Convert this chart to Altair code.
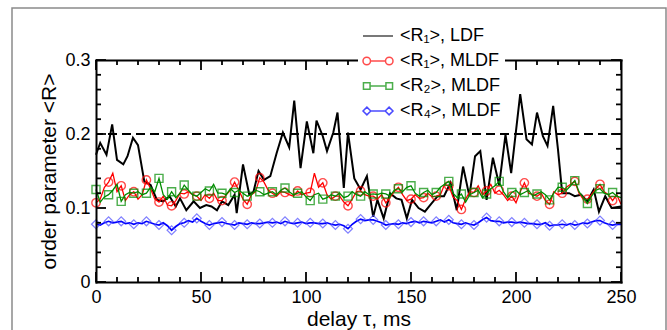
import altair as alt
import pandas as pd

# ---------------- data ----------------
tau_ldf = [0, 2, 5, 7.7, 10, 13, 15, 17.6, 20, 23,
           26, 29, 32, 35, 38, 40, 43, 46.5, 49.5, 52.5,
           55, 57.6, 60, 63, 66, 67, 70, 73, 75, 77.4,
           80, 83, 86, 89, 92, 94.4, 97.4, 100.4, 103.5, 105,
           108, 110, 113, 115, 118, 120, 123, 126, 129, 132,
           134, 137, 140, 143, 145.5, 148, 150.5, 153.6, 156.6, 159.7,
           162.7, 165.7, 168.8, 171.8, 174.8, 177.8, 180.5, 183, 186, 189,
           192, 195, 197.7, 202, 205, 207.6, 210, 212.8, 215, 217.7,
           220, 222, 225.3, 228, 231, 234, 237, 239.5, 242.5, 245.5,
           250]
r1_ldf = [.172, .188, .172, .213, .165, .159, .170, .195, .185, .136,
          .131, .111, .109, .116, .102, .113, .097, .109, .100, .104,
          .102, .097, .109, .104, .118, .093, .159, .118, .122, .150,
          .138, .143, .174, .202, .182, .245, .154, .217, .174, .218,
          .197, .177, .202, .229, .127, .202, .140, .125, .143, .088,
          .111, .086, .120, .113, .111, .086, .111, .100, .095, .106,
          .116, .116, .134, .097, .156, .116, .170, .177, .111, .168,
          .131, .199, .147, .254, .193, .186, .229, .197, .184, .238,
          .179, .120, .120, .116, .118, .109, .125, .095, .116, .100,
          .102]

tau_mldf = list(range(0, 251, 2))
r1_mldf = [.107, .112, .128, .135, .147, .122, .130, .110, .118, .122,
           .112, .118, .138, .126, .112, .108, .116, .104, .103, .110,
           .120, .119, .122, .118, .116, .110, .118, .113, .120, .110,
           .110, .118, .124, .135, .124, .112, .105, .118, .122, .141,
           .135, .124, .120, .116, .122, .121, .118, .116, .123, .118,
           .120, .121, .147, .128, .134, .118, .112, .116, .116, .108,
           .103, .112, .122, .123, .118, .116, .116, .112, .118, .107,
           .114, .122, .128, .118, .110, .112, .118, .113, .114, .120,
           .115, .116, .118, .132, .130, .115, .110, .098, .112, .122,
           .121, .130, .118, .123, .132, .120, .124, .118, .110, .116,
           .107, .122, .134, .120, .118, .116, .120, .110, .105, .122,
           .118, .120, .128, .132, .136, .120, .112, .112, .118, .126,
           .132, .122, .118, .110, .118, .105]
r2_mldf = [.125, .108, .115, .118, .124, .132, .109, .118, .121, .120,
           .122, .118, .120, .128, .122, .140, .118, .112, .122, .114,
           .120, .131, .124, .118, .116, .121, .126, .123, .132, .120,
           .120, .118, .126, .121, .124, .120, .116, .118, .124, .122,
           .118, .120, .122, .118, .124, .127, .122, .118, .120, .122,
           .115, .110, .118, .120, .112, .114, .118, .116, .120, .114,
           .116, .122, .118, .116, .122, .118, .119, .118, .120, .119,
           .116, .124, .126, .122, .128, .130, .120, .116, .121, .124,
           .118, .121, .128, .132, .136, .120, .114, .119, .108, .118,
           .121, .124, .114, .119, .126, .130, .136, .122, .114, .121,
           .124, .118, .121, .124, .116, .119, .122, .118, .111, .120,
           .128, .128, .124, .130, .137, .122, .114, .106, .116, .124,
           .126, .120, .118, .121, .116, .114]
r4_mldf = [.078, .077, .080, .082, .080, .081, .082, .079, .080, .078,
           .080, .079, .082, .080, .078, .077, .080, .076, .070, .075,
           .079, .080, .083, .081, .086, .082, .079, .077, .079, .080,
           .081, .079, .078, .077, .080, .079, .078, .080, .079, .079,
           .080, .081, .080, .081, .079, .082, .080, .079, .080, .081,
           .079, .080, .080, .079, .079, .080, .078, .077, .078, .076,
           .072, .078, .082, .085, .083, .084, .084, .082, .080, .077,
           .078, .079, .078, .080, .079, .081, .082, .080, .082, .081,
           .080, .082, .084, .081, .084, .080, .079, .078, .080, .078,
           .077, .080, .084, .087, .083, .082, .082, .080, .081, .081,
           .080, .081, .080, .079, .079, .078, .078, .080, .076, .077,
           .077, .078, .077, .079, .077, .078, .080, .079, .081, .083,
           .083, .080, .078, .077, .078, .078]

series_names = ["<R\u2081>, LDF", "<R\u2081>, MLDF", "<R\u2082>, MLDF", "<R\u2084>, MLDF"]
series_colors = ["#000000", "#ff0000", "#008c00", "#0000ff"]
threshold = [0.2]

x_major = [0, 50, 100, 150, 200, 250]
x_minor = [10, 20, 30, 40, 60, 70, 80, 90, 110, 120, 130, 140,
           160, 170, 180, 190, 210, 220, 230, 240]
y_major = [0, 0.1, 0.2, 0.3]
y_minor = [0.02, 0.04, 0.06, 0.08, 0.12, 0.14, 0.16, 0.18,
           0.22, 0.24, 0.26, 0.28]

# ---------------- tables ----------------
ldf = pd.DataFrame({"tau": tau_ldf, "R": r1_ldf})
mldf = pd.DataFrame({"tau": tau_mldf, "R1": r1_mldf, "R2": r2_mldf, "R4": r4_mldf})
marks_df = mldf[mldf["tau"] % 6 == 0]
thr_df = pd.DataFrame({"R": threshold})
leg_df = pd.DataFrame({"series": series_names, "tau": [-100] * 4, "R": [0.15] * 4})
frame_df = pd.DataFrame({"k": [0]})
xt_major = pd.DataFrame({"v": x_major})
xt_minor = pd.DataFrame({"v": x_minor})
yt_major = pd.DataFrame({"v": y_major})
yt_minor = pd.DataFrame({"v": y_minor})

W, H = 525, 222
FONT = "Liberation Sans"
TICK_COLOR = "#000000"
xs = alt.Scale(domain=[0, 250], nice=False, zero=False)
ys = alt.Scale(domain=[0, 0.3], nice=False, zero=False)


def frame_axis(orient, offset):
    return alt.Axis(orient=orient, offset=offset, labels=False, ticks=False,
                    domain=True, domainColor="black", domainWidth=2, domainCap="square",
                    title=None, grid=False, zindex=2)


x_main = alt.Axis(orient="bottom", values=x_major, format="d", labelFont=FONT,
                  labelFontSize=18, labelColor="black", labelPadding=6,
                  ticks=False, tickSize=0, domain=True, domainColor="black",
                  domainWidth=2, domainCap="square", grid=False, labelFlush=False,
                  title="delay \u03c4, ms", titleFont=FONT, titleFontSize=21,
                  titleFontWeight="normal", titleColor="black", titlePadding=2, zindex=2)
y_main = alt.Axis(orient="left", values=y_major, format="~g", labelFont=FONT,
                  labelFontSize=18, labelColor="black", labelPadding=6,
                  ticks=False, tickSize=0, domain=True, domainColor="black",
                  domainWidth=2, domainCap="square", grid=False, labelFlush=False,
                  title="order parameter <R>", titleFont=FONT, titleFontSize=21,
                  titleFontWeight="normal", titleColor="black", titlePadding=5, zindex=2)

frame = alt.Chart(frame_df).mark_rect(fill="transparent", stroke="#8a8a8a", strokeWidth=1.5, clip=False).encode(
    x=alt.value(-84), x2=alt.value(570), y=alt.value(-52), y2=alt.value(300))

dash = alt.Chart(thr_df).mark_rule(color="black", strokeWidth=2, strokeDash=[9, 5]).encode(
    y=alt.Y("R:Q", scale=ys, axis=None))

black = alt.Chart(ldf).mark_line(color="black", strokeWidth=2).encode(
    x=alt.X("tau:Q", scale=xs, axis=x_main),
    y=alt.Y("R:Q", scale=ys, axis=y_main))

red_line = alt.Chart(mldf).mark_line(color="#ff0000", strokeWidth=1.3).encode(
    x=alt.X("tau:Q", scale=xs, axis=None),
    y=alt.Y("R1:Q", scale=ys, axis=None))
red_pts = alt.Chart(marks_df).mark_point(shape="circle", color="#ff0000", filled=False,
                                         size=70, strokeWidth=1.4).encode(
    x=alt.X("tau:Q", scale=xs, axis=None),
    y=alt.Y("R1:Q", scale=ys, axis=None))

green_line = alt.Chart(mldf).mark_line(color="#008c00", strokeWidth=1.3).encode(
    x=alt.X("tau:Q", scale=xs, axis=frame_axis("bottom", -H)),
    y=alt.Y("R2:Q", scale=ys, axis=frame_axis("left", -W)))
green_pts = alt.Chart(marks_df).mark_point(shape="square", color="#008c00", filled=False,
                                           size=64, strokeWidth=1.4).encode(
    x=alt.X("tau:Q", scale=xs, axis=None),
    y=alt.Y("R2:Q", scale=ys, axis=None))

blue_line = alt.Chart(mldf).mark_line(color="#0000ff", strokeWidth=1.7).encode(
    x=alt.X("tau:Q", scale=xs, axis=None),
    y=alt.Y("R4:Q", scale=ys, axis=None))
blue_pts = alt.Chart(marks_df).mark_point(shape="diamond", color="#4a4aff", filled=False,
                                          size=80, strokeWidth=1.2).encode(
    x=alt.X("tau:Q", scale=xs, axis=None),
    y=alt.Y("R4:Q", scale=ys, axis=None))


# inward ticks on all four sides, placed by the scales
def x_ticks(df, length):
    base = alt.Chart(df).mark_rule(color=TICK_COLOR, strokeWidth=1.8)
    return [
        base.encode(x=alt.X("v:Q", scale=xs, axis=None), y=alt.value(H), y2=alt.value(H - length)),
        base.encode(x=alt.X("v:Q", scale=xs, axis=None), y=alt.value(0), y2=alt.value(length)),
    ]


def y_ticks(df, length):
    base = alt.Chart(df).mark_rule(color=TICK_COLOR, strokeWidth=1.8)
    return [
        base.encode(y=alt.Y("v:Q", scale=ys, axis=None), x=alt.value(0), x2=alt.value(length)),
        base.encode(y=alt.Y("v:Q", scale=ys, axis=None), x=alt.value(W), x2=alt.value(W - length)),
    ]


tick_layers = x_ticks(xt_major, 10) + x_ticks(xt_minor, 5) + y_ticks(yt_major, 10) + y_ticks(yt_minor, 5)

# legend symbols: line, and line with markers at both ends
sym_paths = [
    "M-1,0L1,0",
    "M-1,0A0.25,0.25,0,1,0,-0.5,0A0.25,0.25,0,1,0,-1,0Z"
    "M-0.5,0L0.5,0M0.5,0A0.25,0.25,0,1,0,1,0A0.25,0.25,0,1,0,0.5,0Z",
    "M-0.97,-0.22L-0.53,-0.22L-0.53,0.22L-0.97,0.22Z"
    "M-0.53,0L0.53,0M0.53,-0.22L0.97,-0.22L0.97,0.22L0.53,0.22Z",
    "M-1,0L-0.74,-0.26L-0.48,0L-0.74,0.26Z"
    "M-0.48,0L0.48,0M0.48,0L0.74,-0.26L1,0L0.74,0.26Z",
]
leg = alt.Legend(title=None, orient="none", legendX=262, legendY=-44,
                 fillColor="white", padding=4, labelFont=FONT, labelFontSize=18,
                 labelColor="black", symbolSize=900, symbolStrokeWidth=1.5,
                 labelOffset=6, rowPadding=-2, zindex=5)
legend_layer = alt.Chart(leg_df).mark_point(clip=True, filled=False, size=900, strokeWidth=1.5).encode(
    x=alt.X("tau:Q", scale=xs, axis=None),
    y=alt.Y("R:Q", scale=ys, axis=None),
    color=alt.Color("series:N", scale=alt.Scale(domain=series_names, range=series_colors), legend=leg),
    shape=alt.Shape("series:N", scale=alt.Scale(domain=series_names, range=sym_paths), legend=leg))

chart = alt.layer(
    frame, dash, black, red_line, red_pts, green_line, green_pts, blue_line, blue_pts,
    *tick_layers, legend_layer
).resolve_axis(x="independent", y="independent").properties(
    width=W, height=H,
    autosize=alt.AutoSizeParams(type="none"),
    padding={"left": 96, "top": 60, "right": 46, "bottom": 48},
    background="white",
).configure_view(stroke=None)

chart.save("out.html", embed_options={"renderer": "svg", "actions": False})
